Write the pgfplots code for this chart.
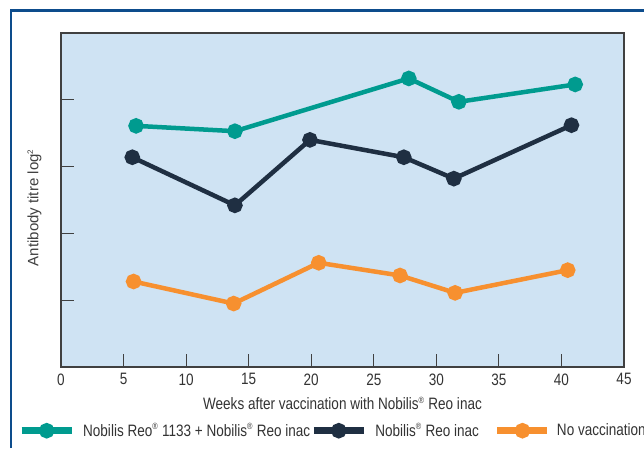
\documentclass[border=0pt]{standalone}
\usepackage{fontspec}
\setmainfont{Liberation Sans}[FakeStretch=0.82]
\newfontfamily\plainfont{Liberation Sans}
\usepackage{pgfplots}
\pgfplotsset{compat=1.18}
\definecolor{cteal}{HTML}{009B8F}
\definecolor{cnavy}{HTML}{1F2F42}
\definecolor{corange}{HTML}{F7902F}
\definecolor{cbg}{HTML}{CFE3F3}
\definecolor{cframe}{HTML}{0D4C8C}
\definecolor{ctext}{HTML}{333333}
\newcommand{\reg}{\textsuperscript{\fontsize{9}{9}\selectfont ®}}
\begin{document}
\begin{tikzpicture}[x=1pt,y=1pt]
\useasboundingbox (0,0) rectangle (644,448);
\fill[white] (0,0) rectangle (644,448);
\draw[cframe, line width=2.5pt] (11,0) -- (11,437.5) -- (650,437.5);
\begin{axis}[
  at={(61pt,81pt)}, anchor=south west,
  scale only axis, width=563pt, height=334pt,
  xmin=0, xmax=45, ymin=0, ymax=5,
  axis background/.style={fill=cbg},
  axis line style={draw=black!75, line width=1.2pt},
  xtick={0,5,...,45}, ytick={1,2,3,4}, yticklabels={},
  tick align=inside, major tick length=13pt,
  tick style={black!75, line width=1pt},
  xtick pos=bottom, ytick pos=left,
  every tick label/.append style={font=\fontsize{16.5}{18}\selectfont, text=ctext},
  /pgf/number format/assume math mode=true,
  xticklabel style={yshift=-3pt},
  xlabel={Weeks after vaccination with Nobilis\reg{} Reo inac},
  xlabel style={font=\fontsize{16.5}{18}\selectfont, text=ctext, yshift=-5pt},
  ylabel={Antibody titre log\textsuperscript{\fontsize{8}{8}\selectfont 2}},
  ylabel style={font=\plainfont\fontsize{15}{17}\selectfont, text=black!75, at={(axis description cs:-0.047,0.477)}, anchor=center, rotate=0},
  every axis plot/.append style={line width=4.5pt, mark=*, mark size=5.5pt, mark options={line width=0pt}},
  legend columns=3,
  legend style={at={(axis description cs:-0.0764,-0.1907)}, anchor=west, draw=none, fill=none,
    font=\fontsize{16.5}{18}\selectfont, text=ctext, inner sep=0pt,
    nodes={inner sep=0pt},
    /tikz/column 1/.style={column sep=8pt},
    /tikz/column 2/.style={column sep=0pt},
    /tikz/column 3/.style={column sep=8pt},
    /tikz/column 4/.style={column sep=15pt},
    /tikz/column 5/.style={column sep=6pt}},
  legend image code/.code={
    \draw[#1, mark=none, line width=7pt] (0pt,0pt) -- (50pt,0pt);
    \fill[#1] (25pt,0pt) circle (5.5pt);
  },
  clip=false,
]
\addplot[cteal, mark options={fill=cteal, draw=cteal}] coordinates {
  (6.0,3.61) (13.9,3.53) (27.8,4.32) (31.8,3.97) (41.1,4.23)};
\addlegendentry{Nobilis Reo\reg{} 1133 + Nobilis\reg{} Reo inac}
\addplot[cnavy, mark options={fill=cnavy, draw=cnavy}] coordinates {
  (5.7,3.14) (13.9,2.42) (19.9,3.40) (27.4,3.14) (31.4,2.82) (40.8,3.62)};
\addlegendentry{Nobilis\reg{} Reo inac}
\addplot[corange, mark options={fill=corange, draw=corange}] coordinates {
  (5.8,1.28) (13.8,0.95) (20.6,1.56) (27.1,1.37) (31.5,1.11) (40.5,1.45)};
\addlegendentry{No vaccination}
\end{axis}
\end{tikzpicture}
\end{document}
